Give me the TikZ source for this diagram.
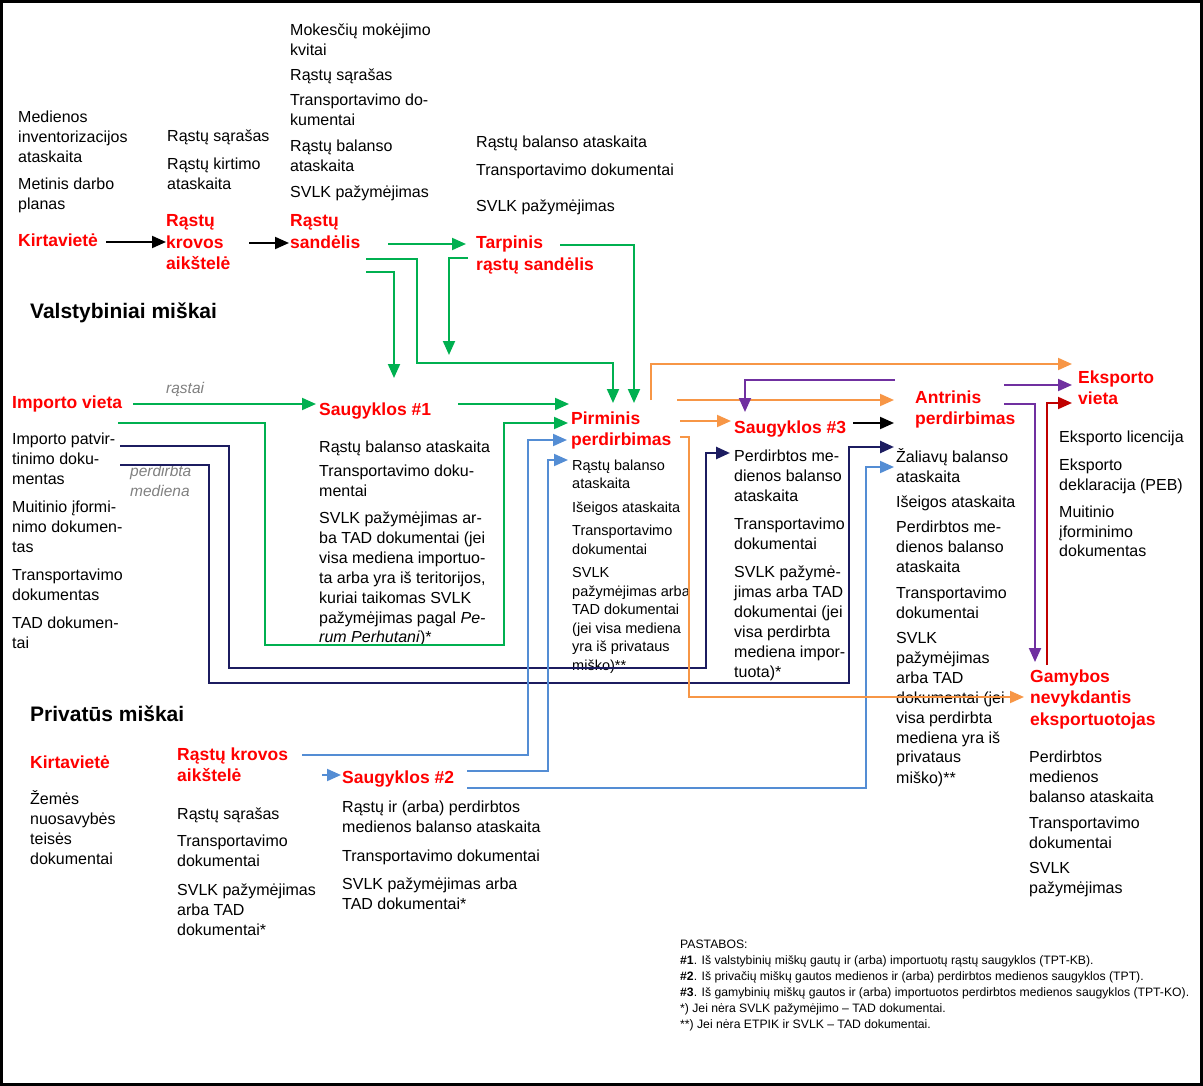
\documentclass[tikz,border=0pt]{standalone}
\usepackage{fontspec}
\setmainfont{Liberation Sans}
\usetikzlibrary{arrows.meta}
\newcommand\fsz[2]{\fontsize{#1}{#2}\selectfont}
\newcommand\blk[1]{\begin{tabular}[t]{@{}l@{}}#1\end{tabular}}
\definecolor{cgreen}{RGB}{0,176,80}
\definecolor{cnavy}{RGB}{28,28,96}
\definecolor{cblue}{RGB}{84,141,212}
\definecolor{corange}{RGB}{247,150,70}
\definecolor{cpurple}{RGB}{112,48,160}
\definecolor{cdred}{RGB}{192,0,0}
\definecolor{cgrey}{RGB}{128,128,128}
\begin{document}
\begin{tikzpicture}[x=1pt,y=-1pt,
  doc/.style={anchor=base west, inner sep=0pt, font=\fsz{16}{20}},
  docs/.style={anchor=base west, inner sep=0pt, font=\fsz{14.5}{18.5}},
  lab/.style={anchor=base west, inner sep=0pt, text=red, font=\bfseries\fsz{17.5}{21.5}},
  ttl/.style={anchor=base west, inner sep=0pt, font=\bfseries\fsz{21}{25}},
  gry/.style={anchor=base west, inner sep=0pt, text=cgrey, font=\itshape\fsz{15.5}{20}},
  note/.style={anchor=base west, inner sep=0pt, font=\fsz{12.2}{16}},
  con/.style={line width=2pt},
  arr/.style={con, -{Triangle[length=14pt,width=12pt]}}]
\useasboundingbox (0,0) rectangle (1203,1086);
\draw[line width=2.5pt] (1.5,1.5) rectangle (1201.5,1084.5);

% ---------- titles
\node[ttl] (tval) at (30,319) {Valstybiniai miškai};
\node[ttl] (tpriv) at (30,721) {Privatūs miškai};

% ---------- red labels
\node[lab] (kirt1) at (18,247) {Kirtavietė};
\node[lab] (krov1) at (166,227) {\blk{Rąstų\\krovos\\aikštelė}};
\node[lab] (sand) at (290,227) {\blk{Rąstų\\sandėlis}};
\node[lab] (tarp) at (476,249) {\blk{Tarpinis\\rąstų sandėlis}};
\node[lab] (imp) at (12,408) {Importo vieta};
\node[lab] (s1) at (319,415) {Saugyklos \#1};
\node[lab] (pir) at (571,424) {\blk{Pirminis\\perdirbimas}};
\node[lab] (s3) at (734,433) {Saugyklos \#3};
\node[lab] (ant) at (915,403) {\blk{Antrinis\\perdirbimas}};
\node[lab] (eks) at (1078,383) {\blk{Eksporto\\vieta}};
\node[lab] (gam) at (1030,682) {\blk{Gamybos\\nevykdantis\\eksportuotojas}};
\node[lab] (kirt2) at (30,768) {Kirtavietė};
\node[lab] (krov2) at (177,760) {\blk{Rąstų krovos\\aikštelė}};
\node[lab] (s2) at (342,783) {Saugyklos \#2};

% ---------- document lists
\node[doc] (meddocs) at (18,123) {\blk{Medienos\\inventorizacijos\\ataskaita\\[7pt]Metinis darbo\\planas}};
\node[doc] (krov1docs) at (167,142) {\blk{Rąstų sąrašas\\[8pt]Rąstų kirtimo\\ataskaita}};
\node[doc] (sanddocs) at (290,36) {\blk{Mokesčių mokėjimo\\kvitai\\[5pt]Rąstų sąrašas\\[5pt]Transportavimo do-\\kumentai\\[6pt]Rąstų balanso\\ataskaita\\[6pt]SVLK pažymėjimas}};
\node[doc] (tarpdocs) at (476,148) {\blk{Rąstų balanso ataskaita\\[8pt]Transportavimo dokumentai\\[16pt]SVLK pažymėjimas}};
\node[doc] (impdocs) at (12,444) {\blk{Importo patvir-\\tinimo doku-\\mentas\\[8pt]Muitinio įformi-\\nimo dokumen-\\tas\\[8pt]Transportavimo\\dokumentas\\[8pt]TAD dokumen-\\tai}};
\node[doc] (s1docs) at (319,452) {\blk{Rąstų balanso ataskaita\\[4pt]Transportavimo doku-\\mentai\\[7pt]SVLK pažymėjimas ar-\\ba TAD dokumentai (jei\\visa mediena importuo-\\ta arba yra iš teritorijos,\\kuriai taikomas SVLK\\pažymėjimas pagal \textit{Pe-}\\\textit{rum Perhutani})*}};
\node[docs] (pirdocs) at (572,470) {\blk{Rąstų balanso\\ataskaita\\[5pt]Išeigos ataskaita\\[5pt]Transportavimo\\dokumentai\\[5pt]SVLK\\pažymėjimas arba\\TAD dokumentai\\(jei visa mediena\\yra iš privataus\\miško)**}};
\node[doc] (s3docs) at (734,461) {\blk{Perdirbtos me-\\dienos balanso\\ataskaita\\[8pt]Transportavimo\\dokumentai\\[8pt]SVLK pažymė-\\jimas arba TAD\\dokumentai (jei\\visa perdirbta\\mediena impor-\\tuota)*}};
\node[doc] (antdocs) at (896,462) {\blk{Žaliavų balanso\\ataskaita\\[5pt]Išeigos ataskaita\\[5pt]Perdirbtos me-\\dienos balanso\\ataskaita\\[6pt]Transportavimo\\dokumentai\\[5pt]SVLK\\pažymėjimas\\arba TAD\\dokumentai (jei\\visa perdirbta\\mediena yra iš\\privataus\\miško)**}};
\node[doc] (eksdocs) at (1059,442) {\blk{Eksporto licencija\\[8pt]Eksporto\\deklaracija (PEB)\\[7pt]Muitinio\\įforminimo\\dokumentas}};
\node[doc] (gamdocs) at (1029,762) {\blk{Perdirbtos\\medienos\\balanso ataskaita\\[6pt]Transportavimo\\dokumentai\\[5pt]SVLK\\pažymėjimas}};
\node[doc] (kirt2docs) at (30,804) {\blk{Žemės\\nuosavybės\\teisės\\dokumentai}};
\node[doc] (krov2docs) at (177,819) {\blk{Rąstų sąrašas\\[7pt]Transportavimo\\dokumentai\\[9pt]SVLK pažymėjimas\\arba TAD\\dokumentai*}};
\node[doc] (s2docs) at (342,812) {\blk{Rąstų ir (arba) perdirbtos\\medienos balanso ataskaita\\[9pt]Transportavimo dokumentai\\[8pt]SVLK pažymėjimas arba\\TAD dokumentai*}};

% ---------- grey labels
\node[gry] (lrastai) at (166,393) {rąstai};
\node[gry] (lperd) at (130,476) {\blk{perdirbta\\mediena}};

% ---------- notes
\node[note] (notes) at (680,948) {\blk{PASTABOS:\\
\textbf{\#1}. Iš valstybinių miškų gautų ir (arba) importuotų rąstų saugyklos (TPT-KB).\\
\textbf{\#2}. Iš privačių miškų gautos medienos ir (arba) perdirbtos medienos saugyklos (TPT).\\
\textbf{\#3}. Iš gamybinių miškų gautos ir (arba) importuotos perdirbtos medienos saugyklos (TPT-KO).\\
{*}) Jei nėra SVLK pažymėjimo – TAD dokumentai.\\
{*}*) Jei nėra ETPIK ir SVLK – TAD dokumentai.}};

% ---------- connector end points
\coordinate (kirt1o) at (106,242);  \coordinate (krov1i) at (166,242);
\coordinate (krov1o) at (249,243);  \coordinate (sandi) at (289,243);
\coordinate (sando) at (388,244);   \coordinate (tarpi) at (466,244);
\coordinate (sando2) at (366,259);  \coordinate (piri1) at (613,403);
\coordinate (sando3) at (366,272);  \coordinate (s1i1) at (394,378);
\coordinate (tarpo1) at (468,258);  \coordinate (s1i2) at (449,355);
\coordinate (tarpo2) at (560,245);  \coordinate (piri2) at (634,403);
\coordinate (s1o) at (458,404);     \coordinate (piri3) at (569,404);
\coordinate (impo1) at (133,404);   \coordinate (s1i) at (316,404);
\coordinate (impo2) at (118,423);   \coordinate (piri4) at (568,423);
\coordinate (impo3) at (120,446);   \coordinate (s3i1) at (730,453);
\coordinate (impo4) at (120,465);   \coordinate (anti1) at (894,447);
\coordinate (krov2o1) at (302,755); \coordinate (piri5) at (567,440);
\coordinate (krov2o2) at (322,775); \coordinate (s2i) at (341,775);
\coordinate (s2o1) at (467,771);    \coordinate (piri6) at (568,460);
\coordinate (s2o2) at (467,788);    \coordinate (anti2) at (894,467);
\coordinate (piro1) at (651,400);   \coordinate (eksi1) at (1072,364);
\coordinate (piro2) at (677,400);   \coordinate (anti3) at (894,400);
\coordinate (piro3) at (680,421);   \coordinate (s3i2) at (731,421);
\coordinate (piro4) at (680,437);   \coordinate (gami1) at (1024,697);
\coordinate (anto1) at (895,380);   \coordinate (s3i3) at (745,412);
\coordinate (anto2) at (1004,385);  \coordinate (eksi2) at (1072,385);
\coordinate (anto3) at (1004,404);  \coordinate (gami2) at (1035,662);
\coordinate (gamo) at (1047,665);   \coordinate (eksi3) at (1072,403);
\coordinate (s3o) at (853,423);     \coordinate (anti4) at (894,423);

% ---------- connectors
\draw[arr] (kirt1o) -- (krov1i);
\draw[arr] (krov1o) -- (sandi);
\draw[arr,cgreen] (sando) -- (tarpi);
\draw[arr,cgreen] (sando2) -- (417,259) -- (417,363) -| (piri1);
\draw[arr,cgreen] (sando3) -| (s1i1);
\draw[arr,cgreen] (tarpo1) -| (s1i2);
\draw[arr,cgreen] (tarpo2) -| (piri2);
\draw[arr,cgreen] (s1o) -- (piri3);
\draw[arr,cgreen] (impo1) -- (s1i);
\draw[arr,cgreen] (impo2) -- (265,423) -- (265,645) -- (504,645) |- (piri4);
\draw[arr,cnavy,line width=2.5pt] (impo3) -- (229,446) -- (229,668) -- (706,668) |- (s3i1);
\draw[arr,cnavy,line width=2.5pt] (impo4) -- (209,465) -- (209,683) -- (849,683) |- (anti1);
\draw[arr,cblue] (krov2o1) -- (528,755) |- (piri5);
\draw[arr,cblue] (krov2o2) -- (s2i);
\draw[arr,cblue] (s2o1) -- (548,771) |- (piri6);
\draw[arr,cblue] (s2o2) -- (866,788) |- (anti2);
\draw[arr,corange] (piro1) |- (eksi1);
\draw[arr,corange] (piro2) -- (anti3);
\draw[arr,corange] (piro3) -- (s3i2);
\draw[arr,corange] (piro4) -- (689,437) |- (gami1);
\draw[arr,cpurple] (anto1) -| (s3i3);
\draw[arr,cpurple] (anto2) -- (eksi2);
\draw[arr,cpurple] (anto3) -| (gami2);
\draw[arr,cdred] (gamo) |- (eksi3);
\draw[arr] (s3o) -- (anti4);
\end{tikzpicture}
\end{document}
